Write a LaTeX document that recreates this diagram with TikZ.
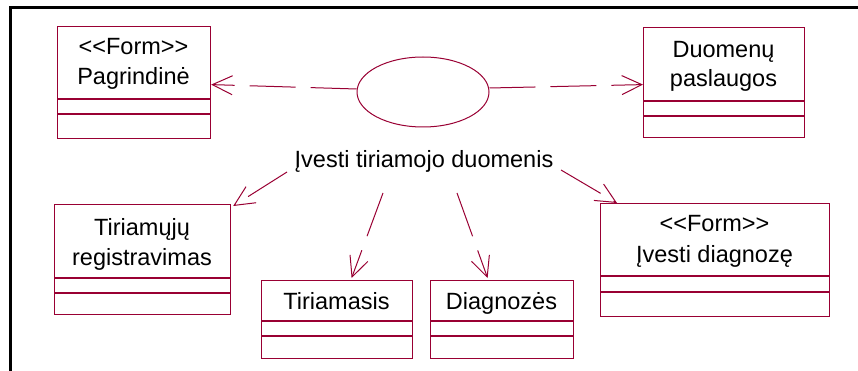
\documentclass[tikz,border=0pt]{standalone}
\usepackage{fontspec}
\setmainfont{Liberation Sans}
\usetikzlibrary{arrows.meta,shapes.geometric,calc}
\definecolor{umlred}{RGB}{153,0,51}
\begin{document}
\begin{tikzpicture}[x=1pt,y=-1pt,
  classbox/.style={draw=umlred, line width=1.2pt, rectangle, inner sep=0pt, anchor=north west},
  compart/.style={draw=umlred, line width=1.2pt},
  txt/.style={anchor=base, font=\fontsize{23.5}{30}\selectfont, text=black, inner sep=0pt},
  dep/.style={draw=umlred, line width=1pt, dash pattern=on 46pt off 15pt,
    -{Straight Barb[length=20pt,width=19pt,line width=1pt]}},
  frameline/.style={line width=3pt, black}
]
\useasboundingbox (0,0) rectangle (858,371);

% outer frame
\draw[frameline] (10.5,371) -- (10.5,8) -- (858,8);

% classes
\node[classbox, minimum width=153pt, minimum height=112pt] (pag) at (57,26) {};
\draw[compart] (57,99) -- (210,99) (57,114) -- (210,114);
\node[txt] (pag1) at (133.5,55) {<\kern0pt<Form>\kern0pt>};
\node[txt] (pag2) at (133.5,85) {Pagrindinė};

\node[classbox, minimum width=161pt, minimum height=110pt] (dup) at (643,27) {};
\draw[compart] (643,101) -- (804,101) (643,116) -- (804,116);
\node[txt] (dup1) at (723.5,58) {Duomenų};
\node[txt] (dup2) at (723.5,87) {paslaugos};

\node[classbox, minimum width=176pt, minimum height=110pt] (tir) at (54,204) {};
\draw[compart] (54,278) -- (230,278) (54,293) -- (230,293);
\node[txt] (tir1) at (142,236) {Tiriamųjų};
\node[txt] (tir2) at (142,265) {registravimas};

\node[classbox, minimum width=151pt, minimum height=78pt] (tis) at (261,280) {};
\draw[compart] (261,321) -- (412,321) (261,336) -- (412,336);
\node[txt] (tis1) at (336.5,309) {Tiriamasis};

\node[classbox, minimum width=143pt, minimum height=78pt] (dia) at (430,280) {};
\draw[compart] (430,321) -- (573,321) (430,336) -- (573,336);
\node[txt] (dia1) at (501.5,309) {Diagnozės};

\node[classbox, minimum width=229pt, minimum height=113pt] (ivd) at (600,203) {};
\draw[compart] (600,276) -- (829,276) (600,292) -- (829,292);
\node[txt] (ivd1) at (714.5,232) {<\kern0pt<Form>\kern0pt>};
\node[txt] (ivd2) at (714.5,262) {Įvesti diagnozę};

% use case
\node[draw=umlred, line width=1pt, ellipse, minimum width=132pt, minimum height=70pt, inner sep=0pt] (uc) at (423,92) {};
\node[txt] (lbl) at (424,168) {Įvesti tiriamojo duomenis};

% start points of the dependencies below the label
\coordinate (s1) at (287,172);
\coordinate (s2) at (383,193);
\coordinate (s3) at (457,193);
\coordinate (s4) at (561,170);

% dependencies
\draw[dep] ($(uc.west)+(0,-3)$) -- ($(pag.east)+(0,2)$);
\draw[dep] ($(uc.east)+(0,-4)$) -- ($(dup.west)+(0,2)$);
\draw[dep] (s1) -- ($(tir.north east)+(2,2)$);
\draw[dep] (s2) -- ($(tis.north)+(14.5,-2)$);
\draw[dep] (s3) -- ($(dia.north)+(-14.5,-2)$);
\draw[dep] (s4) -- ($(ivd.north west)+(17,0)$);
\end{tikzpicture}
\end{document}
